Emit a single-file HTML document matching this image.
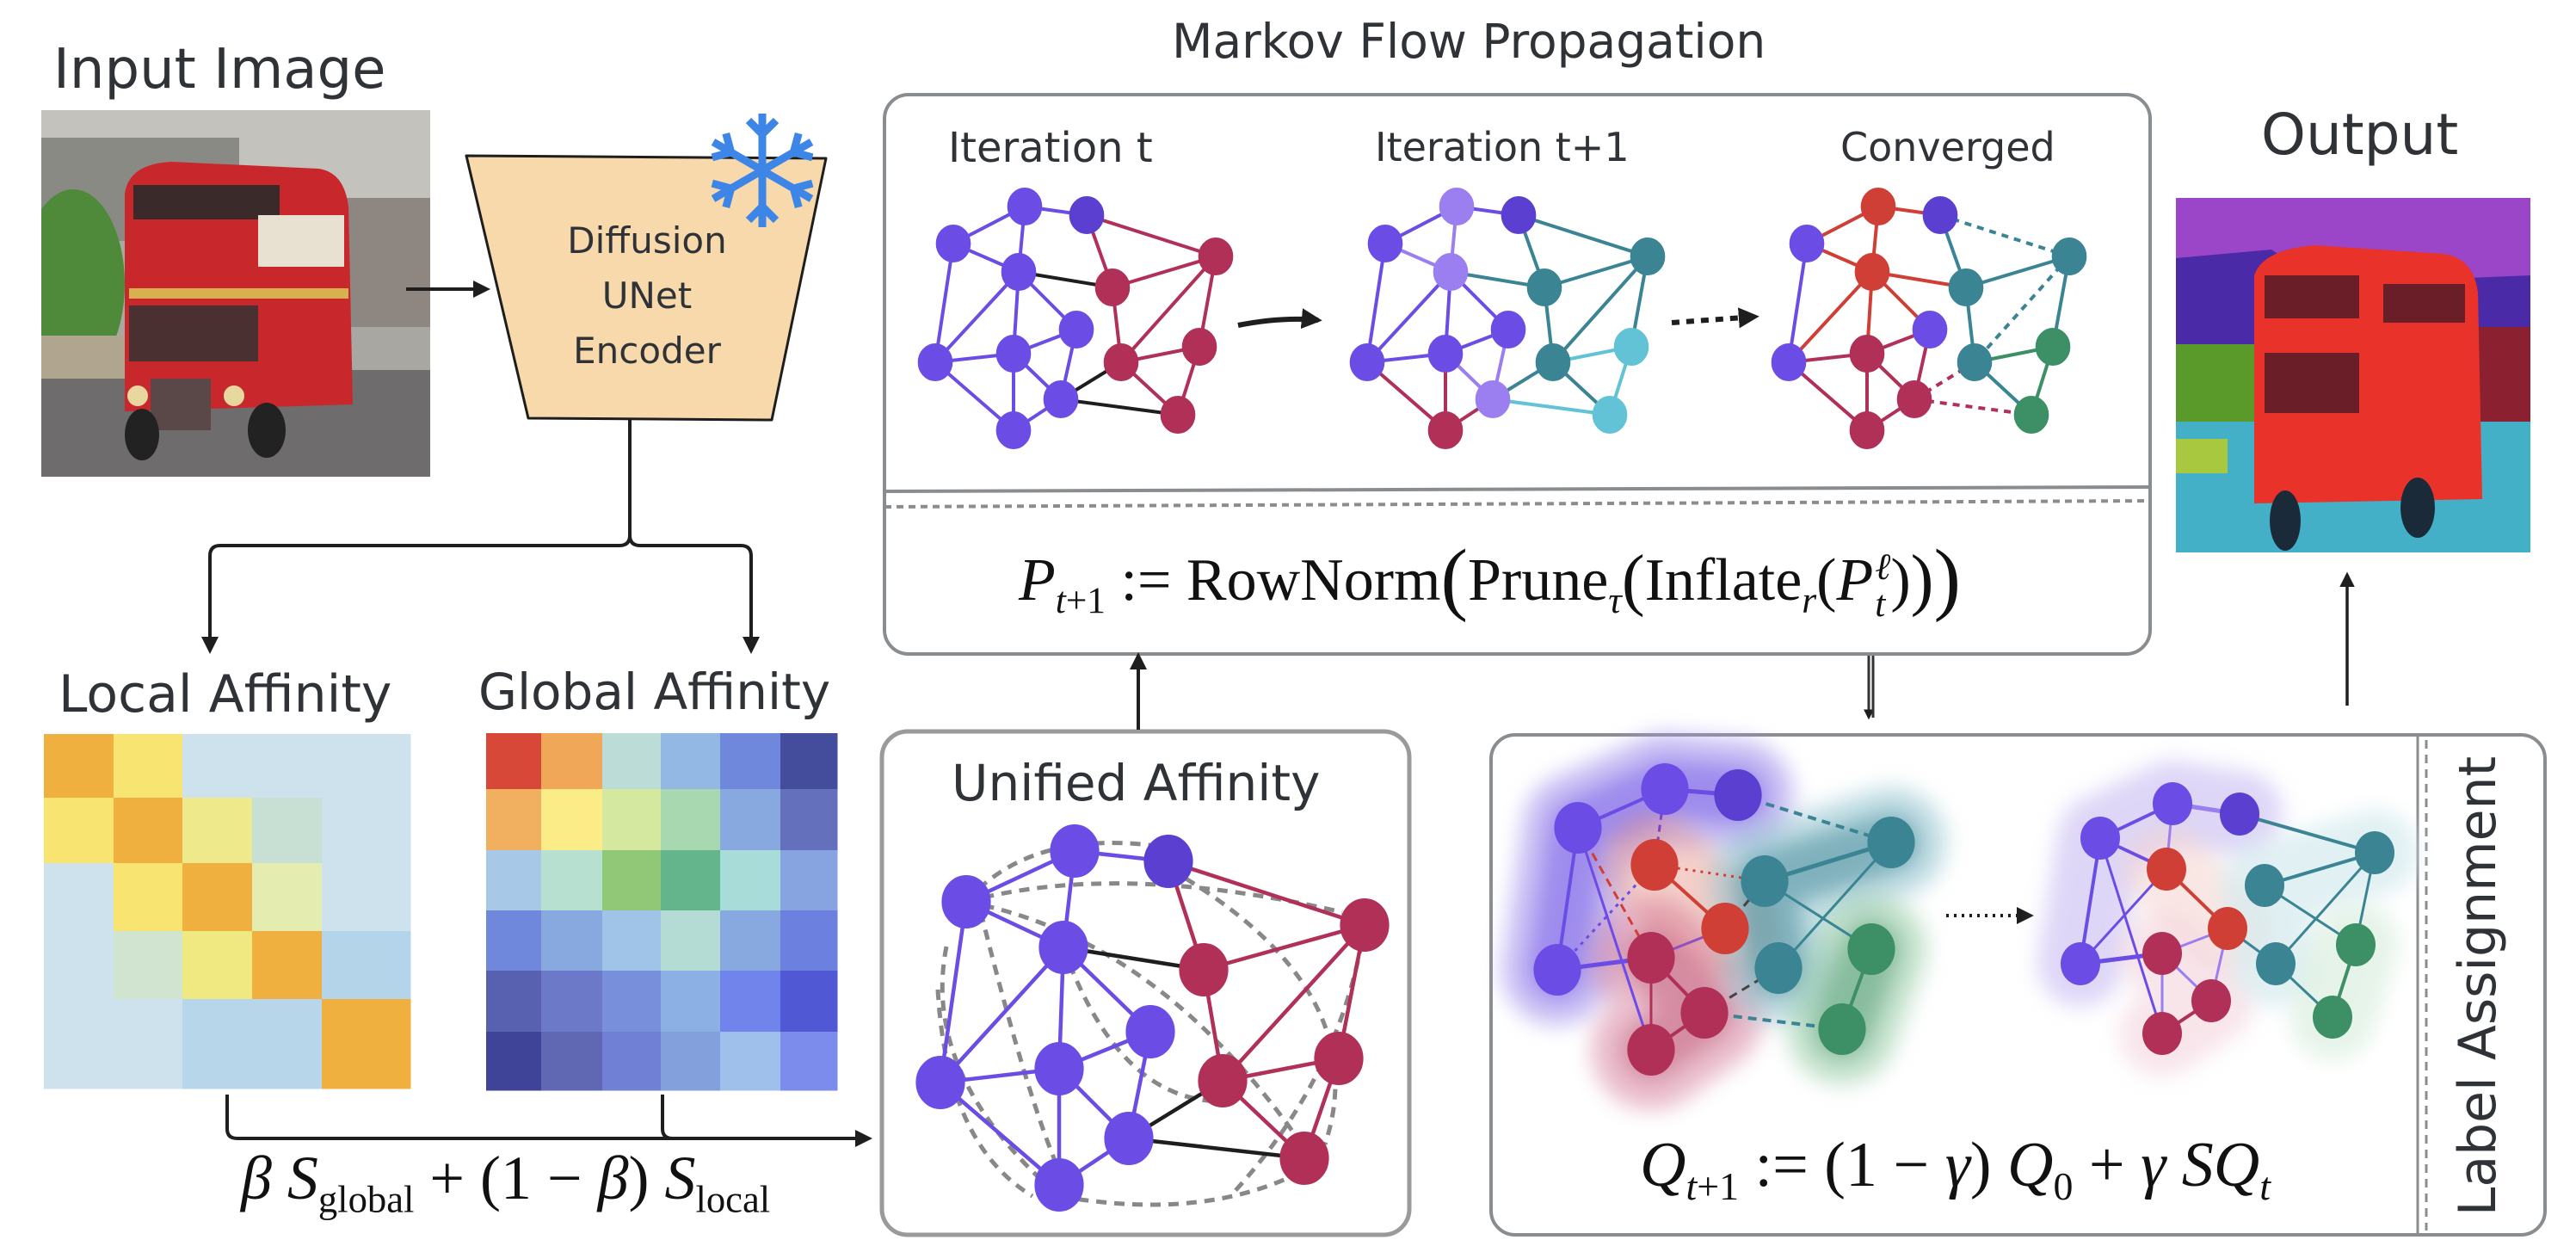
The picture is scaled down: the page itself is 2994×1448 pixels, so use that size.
<!DOCTYPE html>
<html><head><meta charset="utf-8">
<style>
html,body{margin:0;padding:0;background:#fff;}
#root{position:relative;width:2994px;height:1448px;overflow:hidden;background:#fff;font-family:"DejaVu Sans","Liberation Sans",sans-serif;color:#2f3337;}
.t{position:absolute;white-space:nowrap;}
.m{position:absolute;white-space:nowrap;font-family:"Liberation Serif",serif;color:#111;}
.m i{font-style:italic;}
.m sub,.m sup{font-size:62%;}
.ss{display:inline-block;vertical-align:middle;line-height:1;font-size:62%;text-align:left;margin-left:2px;}
svg{position:absolute;left:0;top:0;}
</style></head><body>
<div id="root">
<svg id="s" width="2994" height="1448" viewBox="0 0 2994 1448">
<defs>
<filter id="bl" filterUnits="userSpaceOnUse" x="0" y="0" width="2994" height="1448"><feGaussianBlur stdDeviation="12"/></filter>
<marker id="ah" viewBox="0 0 10 10" refX="8" refY="5" markerWidth="5" markerHeight="5" orient="auto"><path d="M0,0 L10,5 L0,10 z" fill="#1e1e1e"/></marker>
<marker id="ah2" viewBox="0 0 10 10" refX="8" refY="5" markerWidth="4" markerHeight="4" orient="auto"><path d="M0,0 L10,5 L0,10 z" fill="#1e1e1e"/></marker>
<clipPath id="c1"><rect x="48" y="128" width="452" height="426"/></clipPath>
<clipPath id="c2"><rect x="2529" y="230" width="412" height="412"/></clipPath>
</defs>

<!-- input image -->
<g clip-path="url(#c1)">
<rect x="48" y="128" width="452" height="426" fill="#a9a7a2"/>
<rect x="48" y="128" width="452" height="110" fill="#c4c2bc"/>
<rect x="48" y="160" width="230" height="120" fill="#8a8a84"/>
<rect x="380" y="230" width="120" height="150" fill="#8e8680"/>
<ellipse cx="85" cy="330" rx="60" ry="110" fill="#4f8a3a"/>
<rect x="48" y="430" width="452" height="124" fill="#6e6c6c"/>
<rect x="48" y="390" width="100" height="50" fill="#b0a690"/>
<path d="M145,225 Q150,190 200,188 L370,196 Q400,200 405,240 L410,470 L145,478 Z" fill="#c8282c"/>
<rect x="155" y="215" width="170" height="40" fill="#3a2a2a"/>
<rect x="300" y="250" width="100" height="60" fill="#e8e0d0"/>
<rect x="150" y="335" width="255" height="12" fill="#d8b050"/>
<rect x="150" y="355" width="150" height="65" fill="#4a3030"/>
<rect x="175" y="440" width="70" height="60" fill="#5a4848"/>
<circle cx="160" cy="460" r="12" fill="#e8d8a0"/><circle cx="272" cy="460" r="12" fill="#e8d8a0"/>
<ellipse cx="165" cy="505" rx="20" ry="30" fill="#222"/><ellipse cx="310" cy="500" rx="22" ry="32" fill="#222"/>
</g>

<!-- trapezoid -->
<path d="M542,181 L960,184 L897,488 L614,486 Z" fill="#f8d9ab" stroke="#1e1e1e" stroke-width="3" stroke-linejoin="round"/>
<g stroke="#3d86e8" stroke-width="9" fill="none" transform="translate(886,198)">
<line x1="0" y1="-66" x2="0" y2="66"/><line x1="-57" y1="-33" x2="57" y2="33"/><line x1="-57" y1="33" x2="57" y2="-33"/>
<path d="M-16,-58 L0,-42 L16,-58"/><path d="M-16,58 L0,42 L16,58"/>
<g transform="rotate(60)"><path d="M-16,-58 L0,-42 L16,-58"/><path d="M-16,58 L0,42 L16,58"/></g>
<g transform="rotate(-60)"><path d="M-16,-58 L0,-42 L16,-58"/><path d="M-16,58 L0,42 L16,58"/></g>
</g>

<line x1="472" y1="336" x2="566" y2="336" stroke="#1e1e1e" stroke-width="4" marker-end="url(#ah)"/>
<path d="M732,488 L732,622 Q732,634 720,634 L256,634 Q244,634 244,646 L244,756" fill="none" stroke="#1e1e1e" stroke-width="4" marker-end="url(#ah)"/>
<path d="M732,622 Q732,634 744,634 L861,634 Q873,634 873,646 L873,756" fill="none" stroke="#1e1e1e" stroke-width="4" marker-end="url(#ah)"/>
<path d="M264,1272 L264,1312 Q264,1323 276,1323 L1010,1323" fill="none" stroke="#1e1e1e" stroke-width="4" marker-end="url(#ah)"/>
<path d="M770,1272 L770,1312 Q770,1323 782,1323" fill="none" stroke="#1e1e1e" stroke-width="4"/>

<g id="hm"></g>

<rect x="1028" y="110" width="1471" height="650" rx="28" fill="none" stroke="#8a8d90" stroke-width="4"/>
<line x1="1028" y1="571" x2="2499" y2="566" stroke="#8a8d90" stroke-width="4"/>
<line x1="1028" y1="589" x2="2499" y2="582" stroke="#8a8d90" stroke-width="4" stroke-dasharray="8,6"/>
<rect x="1025" y="850" width="613" height="585" rx="30" fill="none" stroke="#9a9a9a" stroke-width="5"/>
<rect x="1733" y="854" width="1225" height="581" rx="28" fill="none" stroke="#8a8d90" stroke-width="4"/>
<line x1="2810" y1="854" x2="2810" y2="1435" stroke="#8a8d90" stroke-width="3"/>
<line x1="2820" y1="860" x2="2820" y2="1430" stroke="#8a8d90" stroke-width="3" stroke-dasharray="10,7"/>

<line x1="1323" y1="848" x2="1323" y2="762" stroke="#1e1e1e" stroke-width="4" marker-end="url(#ah)"/>
<line x1="2172" y1="762" x2="2172" y2="834" stroke="#333" stroke-width="3" marker-end="url(#ah2)"/>
<line x1="2177" y1="762" x2="2177" y2="834" stroke="#333" stroke-width="3"/>
<line x1="2728" y1="820" x2="2728" y2="668" stroke="#1e1e1e" stroke-width="3.5" marker-end="url(#ah)"/>

<path d="M1439,378 Q1490,368 1532,372" fill="none" stroke="#1e1e1e" stroke-width="6" marker-end="url(#ah2)"/>
<line x1="1943" y1="375" x2="2040" y2="368" stroke="#1e1e1e" stroke-width="6" stroke-dasharray="9,8" marker-end="url(#ah2)"/>
<line x1="2262" y1="1064" x2="2360" y2="1064" stroke="#1e1e1e" stroke-width="4" stroke-dasharray="3,6" marker-end="url(#ah)"/>

<g clip-path="url(#c2)">
<rect x="2529" y="230" width="412" height="412" fill="#9b45c8"/>
<path d="M2529,300 L2640,290 L2700,330 L2941,320 L2941,460 L2529,460 Z" fill="#4b2aa8"/>
<rect x="2529" y="400" width="110" height="150" fill="#5a9a2a"/>
<rect x="2880" y="380" width="61" height="120" fill="#8a2030"/>
<rect x="2529" y="490" width="412" height="152" fill="#44b0c8"/>
<rect x="2529" y="510" width="60" height="40" fill="#a8c840"/>
<path d="M2620,320 Q2630,290 2690,285 L2840,295 Q2875,300 2880,340 L2885,580 L2620,585 Z" fill="#e8322a"/>
<rect x="2632" y="320" width="110" height="50" fill="#6a1f28"/>
<rect x="2632" y="410" width="110" height="70" fill="#6a1f28"/>
<rect x="2770" y="330" width="95" height="45" fill="#6a1f28"/>
<ellipse cx="2656" cy="605" rx="18" ry="35" fill="#1a2a38"/><ellipse cx="2810" cy="590" rx="20" ry="35" fill="#1a2a38"/>
</g>

<g id="graphs"></g>
</svg>

<div class="t" style="left:62px;top:44px;font-size:64px;">Input Image</div>
<div class="t" style="left:752px;top:248px;font-size:42px;transform:translateX(-50%);text-align:center;line-height:64px;">Diffusion<br>UNet<br>Encoder</div>
<div class="t" style="left:68px;top:772px;font-size:60px;">Local Affinity</div>
<div class="t" style="left:556px;top:770px;font-size:58px;">Global Affinity</div>
<div class="t" style="left:1106px;top:876px;font-size:58px;">Unified Affinity</div>
<div class="t" style="left:1362px;top:16px;font-size:55px;">Markov Flow Propagation</div>
<div class="t" style="left:1102px;top:144px;font-size:48px;">Iteration t</div>
<div class="t" style="left:1598px;top:144px;font-size:46px;">Iteration t+1</div>
<div class="t" style="left:2139px;top:144px;font-size:46px;">Converged</div>
<div class="t" style="left:2628px;top:118px;font-size:66px;">Output</div>
<div class="t" style="left:2880px;top:1146px;font-size:60px;transform:translate(-50%,-50%) rotate(-90deg);">Label Assignment</div>

<div class="m" style="left:1184px;top:618px;font-size:70px;"><i>P</i><sub><i>t</i>+1</sub> := RowNorm<span style="font-size:135%;vertical-align:-6px">(</span>Prune<sub><i>τ</i></sub><span style="font-size:115%;vertical-align:-3px">(</span>Inflate<sub><i>r</i></sub>(<i>P</i><span class="ss"><i>ℓ</i><br><i>t</i></span>)<span style="font-size:115%;vertical-align:-3px">)</span><span style="font-size:135%;vertical-align:-6px">)</span></div>
<div class="m" style="left:1906px;top:1312px;font-size:74px;"><i>Q</i><sub><i>t</i>+1</sub> := (1 − <i>γ</i>) <i>Q</i><sub>0</sub> + <i>γ SQ</i><sub><i>t</i></sub></div>
<div class="m" style="left:280px;top:1328px;font-size:72px;"><i>β S</i><sub>global</sub> + (1 − <i>β</i>) <i>S</i><sub>local</sub></div>
</div>

<script>
var NS="http://www.w3.org/2000/svg";
function el(p,tag,a){var e=document.createElementNS(NS,tag);for(var k in a)e.setAttribute(k,a[k]);p.appendChild(e);return e;}
var hm=document.getElementById('hm');
function grid(xs,ys,cols){for(var r=0;r<ys.length-1;r++)for(var c=0;c<xs.length-1;c++)el(hm,'rect',{x:xs[c],y:ys[r],width:xs[c+1]-xs[c]+0.5,height:ys[r+1]-ys[r]+0.5,fill:cols[r][c]});}
grid([51,132,212,293,374,477],[853,927,1003,1082,1161,1265],[
["#f0b040","#f8e470","#cde2ec","#cde2ec","#cde2ec"],
["#f8e470","#f0b040","#eee98a","#c8e0d4","#cde2ec"],
["#cde2ec","#f8e470","#f0b040","#e4ecb0","#cde2ec"],
["#cde2ec","#d0e4d0","#f0e880","#f0b040","#b4d4ea"],
["#cde2ec","#cde2ec","#b8d6ea","#b8d6ea","#f0b040"]]);
grid([565,629,700,768,837,907,973],[852,917,988,1058,1128,1199,1267],[
["#d84838","#f0a858","#bcdcd8","#94b8e4","#7088dc","#444c9c"],
["#f0b060","#fcec88","#d4e8a0","#a8d8b0","#88a8e0","#6470bc"],
["#a8c8e8","#b8e0d0","#90c878","#64b48c","#a8dcd8","#88a4e0"],
["#7088dc","#88a8e0","#a0c4e8","#b4dcd4","#88a8e0","#6c80e0"],
["#5860b0","#6c78c8","#7890dc","#8cb0e4","#7084ec","#5058d4"],
["#404498","#6068b4","#7080d4","#84a0dc","#a0c0ec","#7c8cec"]]);

var g=document.getElementById('graphs');
var P="#6b4de6",PD="#5a3fd0",PL="#9b7ef0",R="#b03058",T="#3b8494",C="#63c3d6",O="#d03f35",G="#3d8f65";
var base=[[1191,240],[1263,250],[1108,283],[1184,316],[1413,298],[1293,334],[1251,383],[1087,421],[1178,411],[1303,421],[1394,403],[1233,464],[1178,500],[1369,482]];
var E=[[0,1],[0,2],[2,3],[0,3],[1,4],[1,5],[3,5],[5,4],[5,9],[4,10],[4,9],[10,13],[9,13],[3,6],[2,7],[3,8],[7,8],[8,6],[8,12],[7,12],[11,12],[11,9],[11,13],[8,11],[3,7],[6,11],[10,9]];
function edgeColor(ca,cb,black){ if(black)return "#1e1e1e"; return ca===cb?ca:(ca==P||ca==PL||ca==PD?cb:ca);}
function drawGraph(nodes,colors,r,blackSet,dashSet,sw){
  E.forEach(function(e,i){var a=nodes[e[0]],b=nodes[e[1]];var bl=blackSet&&blackSet.indexOf(i)>=0;
    var col=edgeColor(colors[e[0]],colors[e[1]],bl);
    if(col==PD)col=P;
    var at={x1:a[0],y1:a[1],x2:b[0],y2:b[1],stroke:col,"stroke-width":sw};
    if(dashSet&&dashSet.indexOf(i)>=0)at["stroke-dasharray"]="8,7";
    el(g,'line',at);});
  nodes.forEach(function(n,i){el(g,'ellipse',{cx:n[0],cy:n[1],rx:r*0.92,ry:r,fill:colors[i],stroke:colors[i],"stroke-width":2});});
}
var blk=[6,21,22];
drawGraph(base,[P,PD,P,P,R,R,P,P,P,R,R,P,P,R],21,blk,null,4);
var b2=base.map(function(n){return [n[0]+502,n[1]];});
drawGraph(b2,[PL,PD,P,PL,T,T,P,P,P,T,C,PL,R,C],21,null,null,4);
var b3=base.map(function(n){return [n[0]+992,n[1]];});
drawGraph(b3,[O,PD,P,O,T,T,P,P,R,T,G,R,R,G],21,null,[4,21,22,10],4);

var U=[[1249,989],[1358,1001],[1123,1048],[1236,1101],[1586,1075],[1399,1127],[1337,1199],[1093,1258],[1231,1242],[1421,1256],[1556,1230],[1312,1323],[1231,1377],[1516,1346]];
var dashes=["M1123,1048 Q1200,960 1358,985","M1123,1048 Q1300,1000 1560,1060","M1100,1100 Q1070,1250 1231,1390 Q1400,1420 1516,1360","M1123,1048 Q1350,1090 1520,1340","M1140,1060 Q1200,1300 1240,1380","M1360,1010 Q1600,1150 1540,1330","M1586,1075 Q1560,1250 1430,1390","M1236,1101 Q1300,1280 1421,1280","M1090,1150 Q1100,1330 1200,1390"];
dashes.forEach(function(d){el(g,'path',{d:d,fill:"none",stroke:"#888","stroke-width":5,"stroke-dasharray":"12,9"});});
drawGraph(U,[P,PD,P,P,R,R,P,P,P,R,R,P,P,R],30,blk,null,4.5);

function blob(pts,col,w,op){var d="M"+pts.map(function(p){return p.join(",");}).join(" L");
  if(pts.length==1)d+=" L"+(pts[0][0]+1)+","+pts[0][1];
  el(g,'path',{d:d,fill:"none",stroke:col,"stroke-width":w,"stroke-linecap":"round","stroke-linejoin":"round",opacity:op,filter:"url(#bl)"});}
var Lp=[[1935,917],[2020,924],[1834,962],[1810,1127]],Lo=[[1923,1005],[2005,1079]],Lc=[[1919,1113],[1981,1177],[1919,1220]],Lt=[[2051,1024],[2198,979],[2067,1125]],Lg=[[2175,1103],[2141,1196]];
blob([Lp[1],Lp[0],Lp[2],Lp[3]],"#a898ec",130,.6);blob([Lp[1],Lp[0],Lp[2],Lp[3]],"#6b4de6",70,.45);
blob(Lo,"#e88a7a",120,.4);blob(Lc,"#d07090",140,.45);blob(Lc,"#b03058",70,.35);
blob([Lt[1],Lt[0],Lt[2]],"#8cc0cc",130,.5);blob([Lt[1],Lt[0],Lt[2]],"#3b8494",70,.5);
blob(Lg,"#90c8a0",130,.5);blob(Lg,"#3d8f65",70,.45);
var Rp=[[2525,934],[2603,946],[2441,974],[2418,1120]],Ro=[[2518,1010],[2589,1079]],Rc=[[2513,1108],[2570,1163],[2513,1201]],Rt=[[2632,1029],[2760,991],[2645,1120]],Rg=[[2738,1098],[2711,1182]];
blob([Rp[1],Rp[0],Rp[2],Rp[3]],"#c8bcf2",100,.6);blob(Ro,"#f4d0ca",100,.5);blob(Rc,"#f2d0da",100,.55);blob([Rt[1],Rt[0],Rt[2]],"#d4eaee",100,.7);blob(Rg,"#dcefe0",100,.7);
function L(a,b,c,w,da){var at={x1:a[0],y1:a[1],x2:b[0],y2:b[1],stroke:c,"stroke-width":w};if(da)at["stroke-dasharray"]=da;el(g,'line',at);}
function N(p,c,r){el(g,'ellipse',{cx:p[0],cy:p[1],rx:r*0.92,ry:r,fill:c});}
L(Lp[0],Lp[1],P,5);L(Lp[0],Lp[2],P,4);L(Lp[2],Lp[3],P,4);L(Lp[3],Lc[0],P,5);L(Lp[2],Lc[2],P,3);L(Lp[0],Lo[0],"#8040c0",3,"8,6");
L(Lo[0],Lo[1],O,4);L(Lo[1],Lc[0],"#9050c0",3);L(Lc[0],Lc[1],R,4);L(Lc[1],Lc[2],R,4);L(Lc[0],Lc[2],R,3);
L(Lp[2],Lc[0],O,3,"10,7");L(Lp[1],Lt[1],T,4,"10,7");L(Lt[0],Lt[1],T,5);L(Lt[1],Lt[2],T,3);L(Lt[0],Lg[0],T,3);L(Lg[0],Lg[1],G,4);
L(Lc[1],Lg[1],T,4,"10,7");L(Lo[1],Lt[0],"#444",3,"10,7");L(Lc[1],Lt[2],"#444",3,"10,7");L(Lp[3],Lo[0],P,3,"4,6");L(Lo[0],Lt[0],O,3,"3,6");
Lp.forEach(function(p,i){N(p,i==1?PD:P,30);});Lo.forEach(function(p){N(p,O,30);});Lc.forEach(function(p){N(p,R,30);});Lt.forEach(function(p){N(p,T,30);});Lg.forEach(function(p){N(p,G,30);});
L(Rp[0],Rp[1],PL,5);L(Rp[0],Rp[2],P,4);L(Rp[2],Rp[3],P,4);L(Rp[3],Rc[0],P,5);L(Rp[2],Ro[0],P,4);L(Rp[0],Ro[0],PL,3);L(Rp[3],Ro[0],P,3);L(Rp[2],Rc[2],P,3);
L(Ro[0],Ro[1],O,4);L(Ro[1],Rc[0],PL,3);L(Rc[0],Rc[2],PL,3);L(Rc[0],Rc[1],PL,3);L(Rc[1],Rc[2],R,4);L(Ro[1],Rc[1],PL,3);
L(Rp[1],Rt[1],T,4);L(Rt[0],Rt[1],T,4);L(Rt[1],Rt[2],T,3);L(Rt[0],Rg[0],T,3);L(Rt[1],Rg[0],T,3);L(Rg[0],Rg[1],G,4);L(Rt[2],Rg[1],T,3);L(Ro[1],Rt[2],T,3);
Rp.forEach(function(p,i){N(p,i==1?PD:P,25);});Ro.forEach(function(p){N(p,O,25);});Rc.forEach(function(p){N(p,R,25);});Rt.forEach(function(p){N(p,T,25);});Rg.forEach(function(p){N(p,G,25);});
</script>
</body></html>
